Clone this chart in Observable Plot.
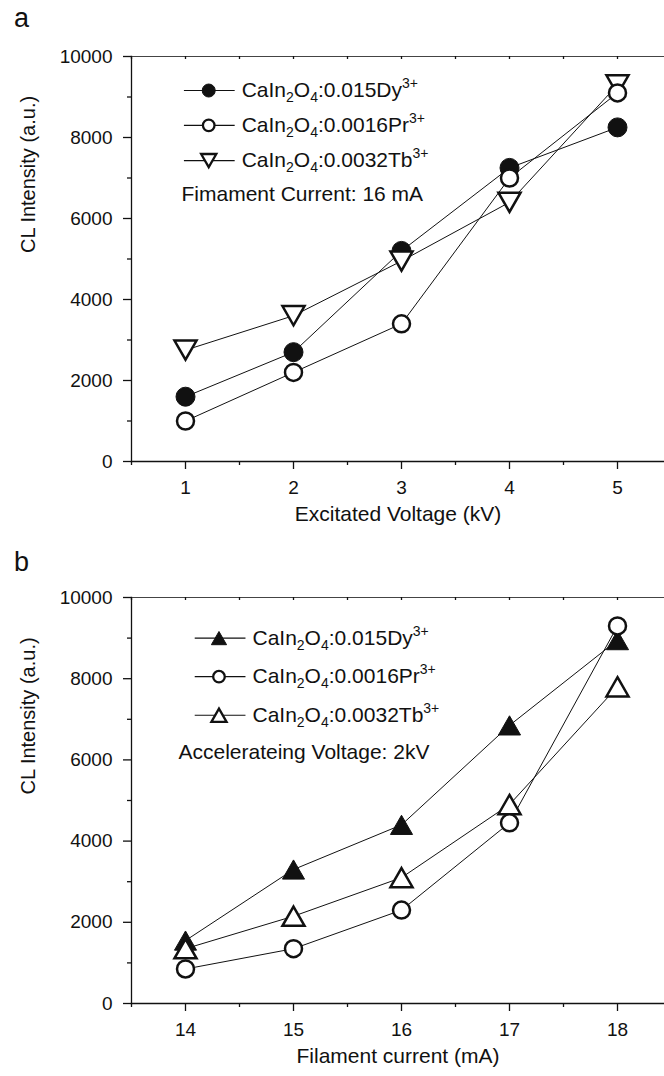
<!DOCTYPE html>
<html><head><meta charset="utf-8">
<script src="https://cdn.jsdelivr.net/npm/d3@7"></script>
<script src="https://cdn.jsdelivr.net/npm/@observablehq/plot@0.6"></script>
<style>
body{margin:0;background:#fff;font-family:"Liberation Sans",Arial,sans-serif;}
#wrap{position:relative;width:664px;height:1076px;overflow:hidden;background:#fff}
.plab{position:absolute;left:14px;font-size:27px;line-height:27px;color:#111}
svg{display:block}
</style></head><body>
<div id="wrap"></div>
<script>
// ---- data ----
const voltage = [1, 2, 3, 4, 5];
const dyVoltage = [1600, 2700, 5200, 7250, 8250];
const prVoltage = [1000, 2200, 3400, 7000, 9100];
const tbVoltage = [2750, 3600, 4950, 6400, 9300];

const current = [14, 15, 16, 17, 18];
const dyCurrent = [1550, 3300, 4400, 6850, 8950];
const prCurrent = [850, 1350, 2300, 4450, 9300];
const tbCurrent = [1350, 2150, 3100, 4900, 7800];

const seriesLabels = ["CaIn_2O_4:0.015Dy^3+", "CaIn_2O_4:0.0016Pr^3+", "CaIn_2O_4:0.0032Tb^3+"];
const yMajor = [0, 2000, 4000, 6000, 8000, 10000];
const yMinor = [1000, 3000, 5000, 7000, 9000];
const voltageMinor = [0.5, 1.5, 2.5, 3.5, 4.5];
const currentMinor = [13.5, 14.5, 15.5, 16.5, 17.5];

// ---- symbols ----
const triUp = {draw(ctx, size){const r=Math.sqrt(size/Math.PI);const w=1.38*r,h=1.2*r;ctx.moveTo(0,-h);ctx.lineTo(w,h);ctx.lineTo(-w,h);ctx.closePath();}};
const triDown = {draw(ctx, size){const r=Math.sqrt(size/Math.PI);const w=1.38*r,h=1.2*r;ctx.moveTo(-w,-h);ctx.lineTo(w,-h);ctx.lineTo(0,h);ctx.closePath();}};

const FONT = "'Liberation Sans', Arial, sans-serif";

function rich(t, str){
  const ns="http://www.w3.org/2000/svg";
  t.textContent="";
  let base=0;
  function add(txt, shift, small){
    const sp=document.createElementNS(ns,"tspan");
    const d=shift-base; if(d) sp.setAttribute("dy", d); base=shift;
    if(small) sp.setAttribute("font-size", small);
    sp.textContent=txt; t.appendChild(sp);
  }
  let i=0, chunk="";
  while(i<str.length){
    const c=str[i];
    if(c==="_"){ if(chunk){add(chunk,0);chunk="";} add(str[i+1],5,14); i+=2; }
    else if(c==="^"){ if(chunk){add(chunk,0);chunk="";} add(str.slice(i+1),-9,14); i=str.length; }
    else { chunk+=c; i++; }
  }
  if(chunk) add(chunk,0);
}

function panel(cfg){
  const {xs, ys, syms, fills, radii, widths, xDomain, xTicks, xMinor, xTitle, note, leg, marginTop, marginBottom, height, lsyms, lradii} = cfg;
  const marginLeft = 131;
  const innerH = height - marginTop - marginBottom;
  const series = ys.map((arr, k) => xs.map((x, i) => ({x, y: arr[i], s: k})));
  const legRows = seriesLabels.map((label, k) => ({label, y: leg.rowsY[k], x1: leg.lineX[0], x2: leg.lineX[1], mx: leg.markX, tx: leg.textX}));
  const order = [0, 2, 1];
  const fmt = d3.format("d");
  const marks = [
    Plot.frame({anchor: "left", stroke: "#111", strokeWidth: 1.3}),
    Plot.frame({anchor: "bottom", stroke: "#111", strokeWidth: 1.3}),
    Plot.frame({anchor: "top", stroke: "#444", strokeWidth: 1.2}),
    Plot.axisY(yMajor, {tickSize: 8, tickPadding: 11, tickFormat: fmt, label: null, fontSize: 19, stroke: "#111", strokeWidth: 1.3}),
    Plot.axisY(yMinor, {tickSize: 4, tickFormat: () => "", label: null, stroke: "#111", strokeWidth: 1.3}),
    Plot.axisX(xTicks, {tickSize: 8, tickPadding: 11, tickFormat: fmt, label: null, fontSize: 19, stroke: "#111", strokeWidth: 1.3}),
    Plot.axisX(xMinor, {tickSize: 4, tickFormat: () => "", label: null, stroke: "#111", strokeWidth: 1.3}),
    Plot.tickX([...xTicks, ...xMinor], {x: d => d, insetBottom: innerH - 3, stroke: "#111", strokeWidth: 1.3}),
    Plot.line(series.flat(), {x: "x", y: "y", z: "s", stroke: "#111", strokeWidth: 1}),
    ...order.map(k => Plot.dot(series[k], {x: "x", y: "y", symbol: syms[k], r: radii[k], fill: fills[k], stroke: "#111", strokeWidth: widths[k]})),
    Plot.ruleY(legRows, {y: "y", x1: "x1", x2: "x2", stroke: "#111", strokeWidth: 1.2}),
    ...[0,1,2].map(k => Plot.dot([legRows[k]], {x: "mx", y: "y", symbol: lsyms[k], r: lradii[k], fill: fills[k], stroke: "#111", strokeWidth: widths[k] > 1.5 ? 2.3 : 1})),
    Plot.text(legRows, {x: "tx", y: "y", text: "label", textAnchor: "start", fontSize: 21, fill: "#111"}),
    Plot.text([note], {x: () => leg.noteX, y: () => leg.noteY, text: d => d, textAnchor: "start", fontSize: 21, fill: "#111"}),
    Plot.text(["CL Intensity (a.u.)"], {frameAnchor: "left", dx: -103, dy: -6, rotate: -90, fontSize: 20, fill: "#111"}),
    Plot.text([xTitle], {frameAnchor: "bottom", dy: 59, fontSize: 21, fill: "#111"})
  ];
  const svg = Plot.plot({
    width: 664, height, marginLeft, marginRight: 0, marginTop, marginBottom,
    x: {domain: xDomain},
    y: {domain: [0, 10000]},
    style: {fontFamily: FONT, fontSize: "19px", color: "#111", background: "white", overflow: "visible"},
    marks
  });
  svg.querySelectorAll("text").forEach(t => { const s = t.textContent; if (s.includes("_")) rich(t, s); });
  return svg;
}

const wrap = document.getElementById("wrap");
const xRightA = 0.5 + (664 - 131) / 108;
const xRightB = 13.5 + (664 - 131) / 108;

wrap.appendChild(panel({
  xs: voltage, ys: [dyVoltage, prVoltage, tbVoltage],
  syms: ["circle", "circle", triDown], fills: ["#111", "white", "white"],
  radii: [9.5, 8.5, 8], widths: [1, 2.5, 2.5],
  lsyms: ["circle", "circle", triDown], lradii: [6.5, 5.8, 5.5],
  xDomain: [0.5, xRightA], xTicks: voltage, xMinor: voltageMinor,
  xTitle: "Excitated Voltage (kV)", note: "Fimament Current: 16 mA",
  leg: {lineX: [0.99, 1.46], markX: 1.215, textX: 1.52, rowsY: [9160, 8300, 7430], noteX: 0.963, noteY: 6600},
  marginTop: 56, marginBottom: 79, height: 540
}));
wrap.appendChild(panel({
  xs: current, ys: [dyCurrent, prCurrent, tbCurrent],
  syms: [triUp, "circle", triUp], fills: ["#111", "white", "white"],
  radii: [8, 8.5, 8], widths: [1, 2.5, 2.5],
  lsyms: [triUp, "circle", triUp], lradii: [5.5, 5.8, 5.5],
  xDomain: [13.5, xRightB], xTicks: current, xMinor: currentMinor,
  xTitle: "Filament current (mA)", note: "Accelerateing Voltage: 2kV",
  leg: {lineX: [14.09, 14.56], markX: 14.31, textX: 14.62, rowsY: [9000, 8050, 7100], noteX: 13.935, noteY: 6200},
  marginTop: 57, marginBottom: 73, height: 536
}));
for (const [t, top] of [["a", 5], ["b", 549]]) {
  const d = document.createElement("div"); d.className = "plab"; d.textContent = t; d.style.top = top + "px"; wrap.appendChild(d);
}
</script>
</body></html>
